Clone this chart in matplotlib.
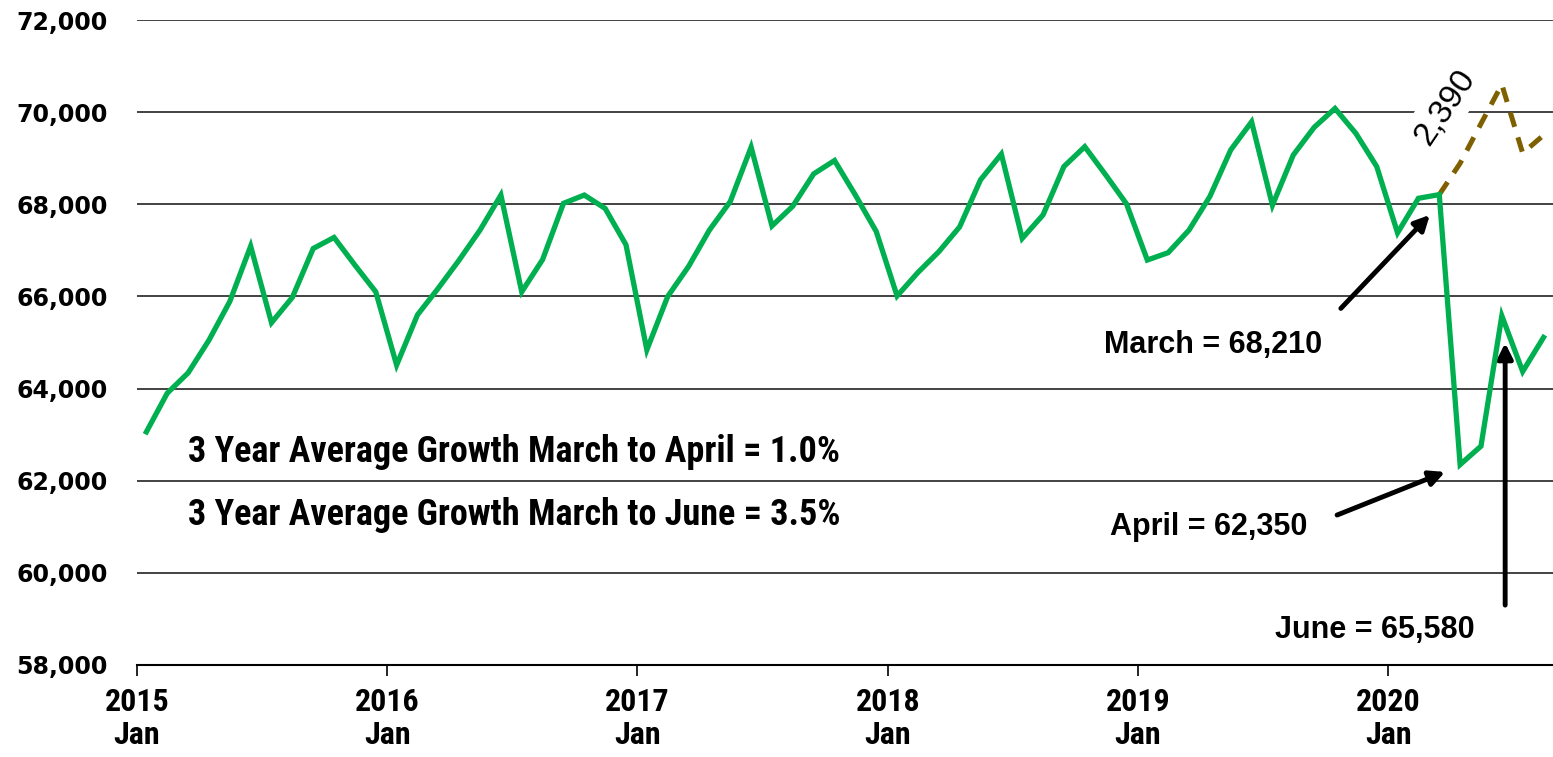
import os
import numpy as np
import matplotlib
matplotlib.use('Agg')
import matplotlib.pyplot as plt
from matplotlib import font_manager as fm

# monthly values, Jan 2015 .. Aug 2020
actual = [63060, 63900, 64340, 65050, 65890, 67090, 65430, 65980, 67040, 67280, 66680, 66100,
          64510, 65600, 66180, 66790, 67440, 68200, 66100, 66800, 68020, 68200, 67910, 67120,
          64840, 66000, 66650, 67440, 68060, 69240, 67530, 67960, 68660, 68950, 68200, 67410,
          66010, 66520, 66970, 67510, 68530, 69090, 67260, 67770, 68820, 69250, 68640, 68010,
          66790, 66950, 67440, 68170, 69180, 69790, 67980, 69070, 69670, 70080, 69540, 68820,
          67380, 68130, 68210, 62350, 62750, 65580, 64370, 65110]
# projection from March 2020 using average growth
projected = [68210, 68890, 69750, 70600, 69110, 69500]
proj_start = 62  # index of March 2020

years = ['2015', '2016', '2017', '2018', '2019', '2020']
y_ticks = [58000, 60000, 62000, 64000, 66000, 68000, 70000, 72000]

green = '#00B050'
brown = '#7F6000'


def font_by_file(stems, size):
    # pick the font by its file name, first one found wins
    files = {os.path.splitext(os.path.basename(f.fname))[0]: f.fname for f in fm.fontManager.ttflist}
    for stem in stems:
        if stem in files:
            return fm.FontProperties(fname=files[stem], size=size)
    return fm.FontProperties(family='DejaVu Sans', weight='bold', size=size)


narrow_b = font_by_file(['RobotoCondensed-Bold', 'LiberationSans-Bold'], 26)
narrow_x = font_by_file(['RobotoCondensed-Bold', 'LiberationSans-Bold'], 23)
arial_b = font_by_file(['LiberationSans-Bold'], 22)
arial_r = font_by_file(['LiberationSans-Regular'], 24)
ylab = fm.FontProperties(family='DejaVu Sans', weight='bold', size=17)

fig = plt.figure(figsize=(15.53, 7.57), dpi=100)
ax = fig.add_axes([137 / 1553, 92 / 757, 1418 / 1553, 645 / 757])

x = np.arange(len(actual)) + 0.45
xp = np.arange(proj_start, proj_start + len(projected)) + 0.45

ax.plot(xp, projected, color=brown, lw=3.6, ls=(0, (3.0, 2.2)), zorder=3)
ax.plot(x, actual, color=green, lw=3.8, zorder=4, solid_joinstyle='miter')

ax.set_xlim(0, 68)
ax.set_ylim(58000, 72000)
ax.set_yticks(y_ticks)
ax.set_yticklabels(['{:,}'.format(v) for v in y_ticks], fontproperties=ylab)
ax.tick_params(axis='y', length=0, pad=21)
ax.yaxis.grid(True, color='#222222', lw=1.2)
ax.set_axisbelow(True)

ax.set_xticks(np.arange(len(years)) * 12)
ax.set_xticklabels([y + '\nJan' for y in years], fontproperties=narrow_x, linespacing=1.1)
ax.tick_params(axis='x', direction='out', length=8, width=1.2, pad=8)

for s in ['left', 'right', 'top']:
    ax.spines[s].set_visible(False)
ax.spines['bottom'].set_linewidth(1.5)
ax.spines['bottom'].set_zorder(5)

# text notes
ax.text(18.08, 62412, '3 Year Average Growth March to April = 1.0%',
        fontproperties=narrow_b, ha='center', va='baseline')
ax.text(18.08, 61039, '3 Year Average Growth March to June = 3.5%',
        fontproperties=narrow_b, ha='center', va='baseline')

arrow = dict(arrowstyle='-|>,head_length=0.9,head_width=0.45', color='black', lw=3.5,
             shrinkA=0, shrinkB=0)
ax.text(51.6, 64772, 'March = 68,210', fontproperties=arial_b, ha='center', va='baseline')
ax.annotate('', xy=(62.0, 67770), xytext=(57.73, 65740), arrowprops=arrow)
ax.text(51.4, 60821, 'April = 62,350', fontproperties=arial_b, ha='center', va='baseline')
ax.annotate('', xy=(62.73, 62190), xytext=(57.55, 61255), arrowprops=arrow)
ax.text(59.35, 58579, 'June = 65,580', fontproperties=arial_b, ha='center', va='baseline')
ax.annotate('', xy=(65.61, 64990), xytext=(65.61, 59300), arrowprops=arrow)

gain = projected[3] - projected[0]
ax.text(62.7, 70100, '{:,}'.format(gain), fontproperties=arial_r, rotation=56,
        rotation_mode='anchor', ha='center', va='center',
        bbox=dict(facecolor='white', edgecolor='none', pad=5), zorder=2)

fig.savefig('out.png', dpi=100)
